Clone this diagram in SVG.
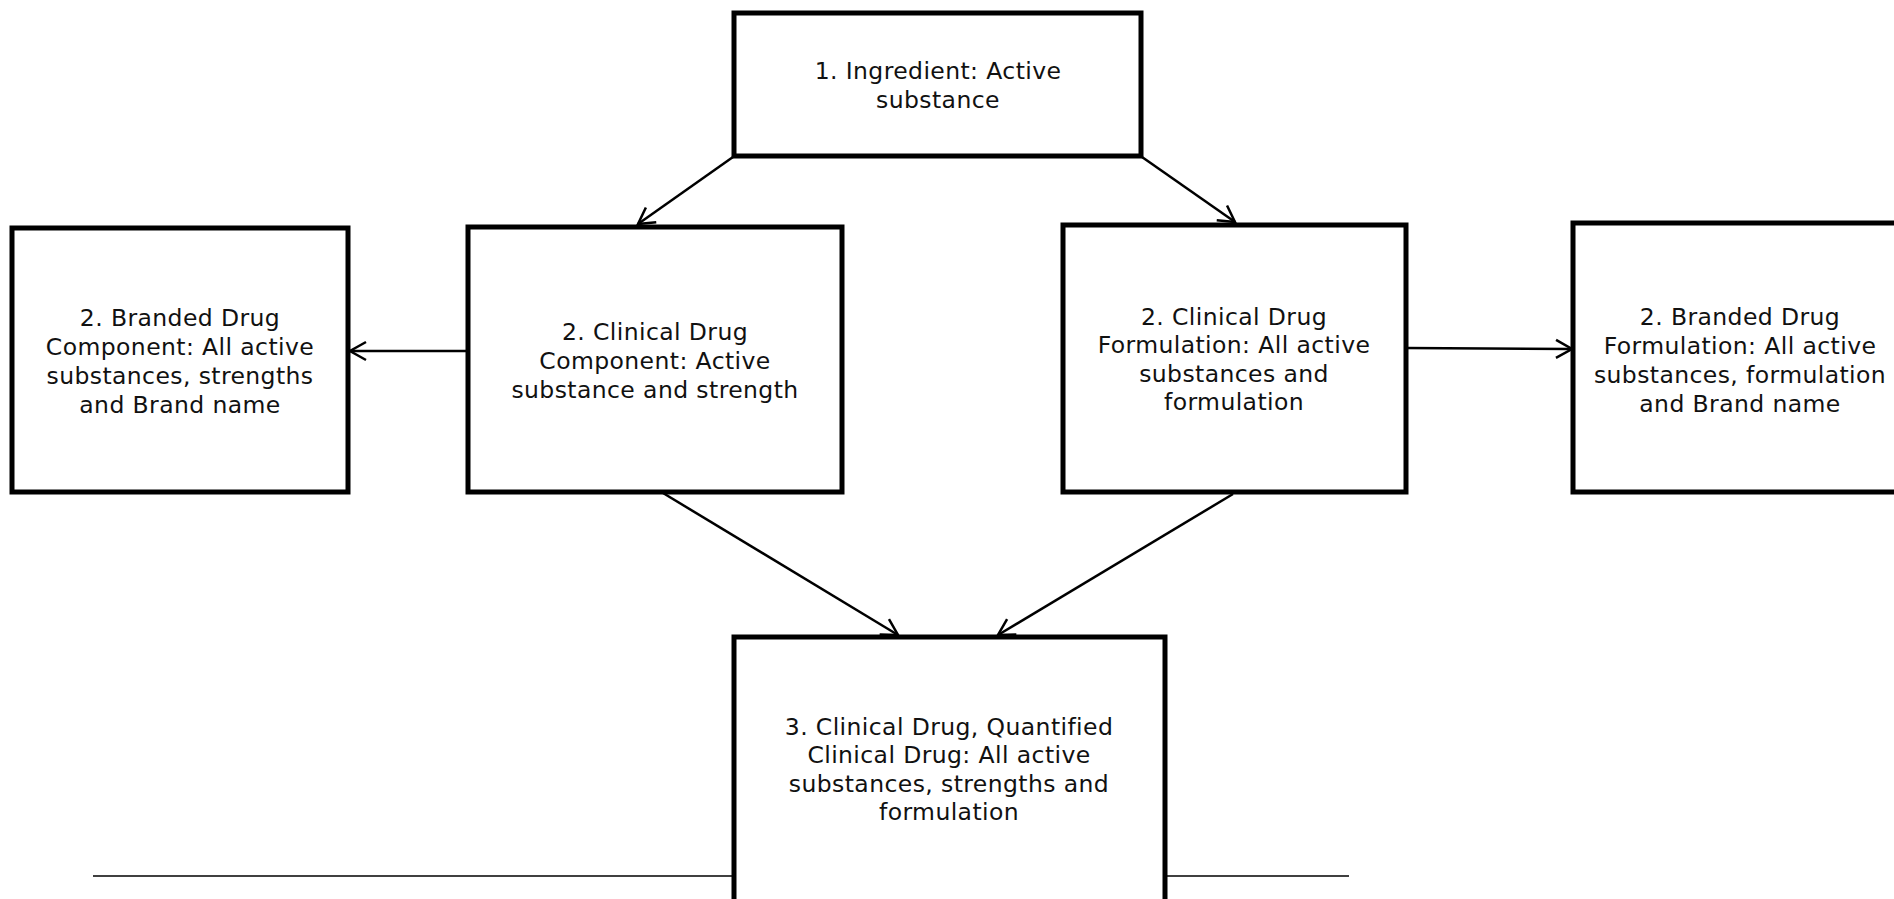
<svg xmlns="http://www.w3.org/2000/svg" width="1894" height="899" viewBox="0 0 1894 899">
<style>
.box{fill:#fff;stroke:#000;stroke-width:5}
.lbl{font-family:"DejaVu Sans","Verdana",sans-serif;font-size:23.5px;letter-spacing:0.4px;fill:#111;text-anchor:middle}
.con{stroke:#000;stroke-width:2.5;fill:none;marker-end:url(#arr)}
</style>
<defs>
<marker id="arr" markerUnits="userSpaceOnUse" markerWidth="24" markerHeight="24" viewBox="-20 -12 24 24" refX="0" refY="0" orient="auto" overflow="visible">
<path d="M-16,-9 L0,0 L-16,9" fill="none" stroke="#000" stroke-width="2.5"/>
</marker>
</defs>
<rect width="1894" height="899" fill="#fff"/>
<line x1="93" y1="876" x2="1349" y2="876" stroke="#000" stroke-width="1.6"/>
<g id="connectors">
<line class="con" x1="733" y1="157" x2="638" y2="224"/>
<line class="con" x1="1142" y1="157" x2="1235" y2="222"/>
<line class="con" x1="468" y1="351" x2="350" y2="351"/>
<line class="con" x1="1406" y1="348" x2="1572" y2="349"/>
<line class="con" x1="663" y1="493" x2="898" y2="635"/>
<line class="con" x1="1233" y1="494" x2="998" y2="635"/>
</g>
<g id="ingredient">
<rect class="box" x="734" y="13" width="407" height="143"/>
<text class="lbl"><tspan x="938" y="79">1. Ingredient: Active</tspan><tspan x="938" y="108">substance</tspan></text>
</g>
<g id="branded-component">
<rect class="box" x="12" y="228" width="336" height="264"/>
<text class="lbl"><tspan x="180" y="326">2. Branded Drug</tspan><tspan x="180" y="355">Component: All active</tspan><tspan x="180" y="384">substances, strengths</tspan><tspan x="180" y="413">and Brand name</tspan></text>
</g>
<g id="clinical-component">
<rect class="box" x="468" y="227" width="374" height="265"/>
<text class="lbl"><tspan x="655" y="340">2. Clinical Drug</tspan><tspan x="655" y="369">Component: Active</tspan><tspan x="655" y="398">substance and strength</tspan></text>
</g>
<g id="clinical-formulation">
<rect class="box" x="1063" y="225" width="343" height="267"/>
<text class="lbl"><tspan x="1234" y="325">2. Clinical Drug</tspan><tspan x="1234" y="353">Formulation: All active</tspan><tspan x="1234" y="382">substances and</tspan><tspan x="1234" y="410">formulation</tspan></text>
</g>
<g id="branded-formulation">
<rect class="box" x="1573" y="223" width="334" height="269"/>
<text class="lbl"><tspan x="1740" y="325">2. Branded Drug</tspan><tspan x="1740" y="354">Formulation: All active</tspan><tspan x="1740" y="383">substances, formulation</tspan><tspan x="1740" y="412">and Brand name</tspan></text>
</g>
<g id="clinical-drug">
<rect class="box" x="734" y="637" width="431" height="280"/>
<text class="lbl"><tspan x="949" y="735">3. Clinical Drug, Quantified</tspan><tspan x="949" y="763">Clinical Drug: All active</tspan><tspan x="949" y="792">substances, strengths and</tspan><tspan x="949" y="820">formulation</tspan></text>
</g>
</svg>
